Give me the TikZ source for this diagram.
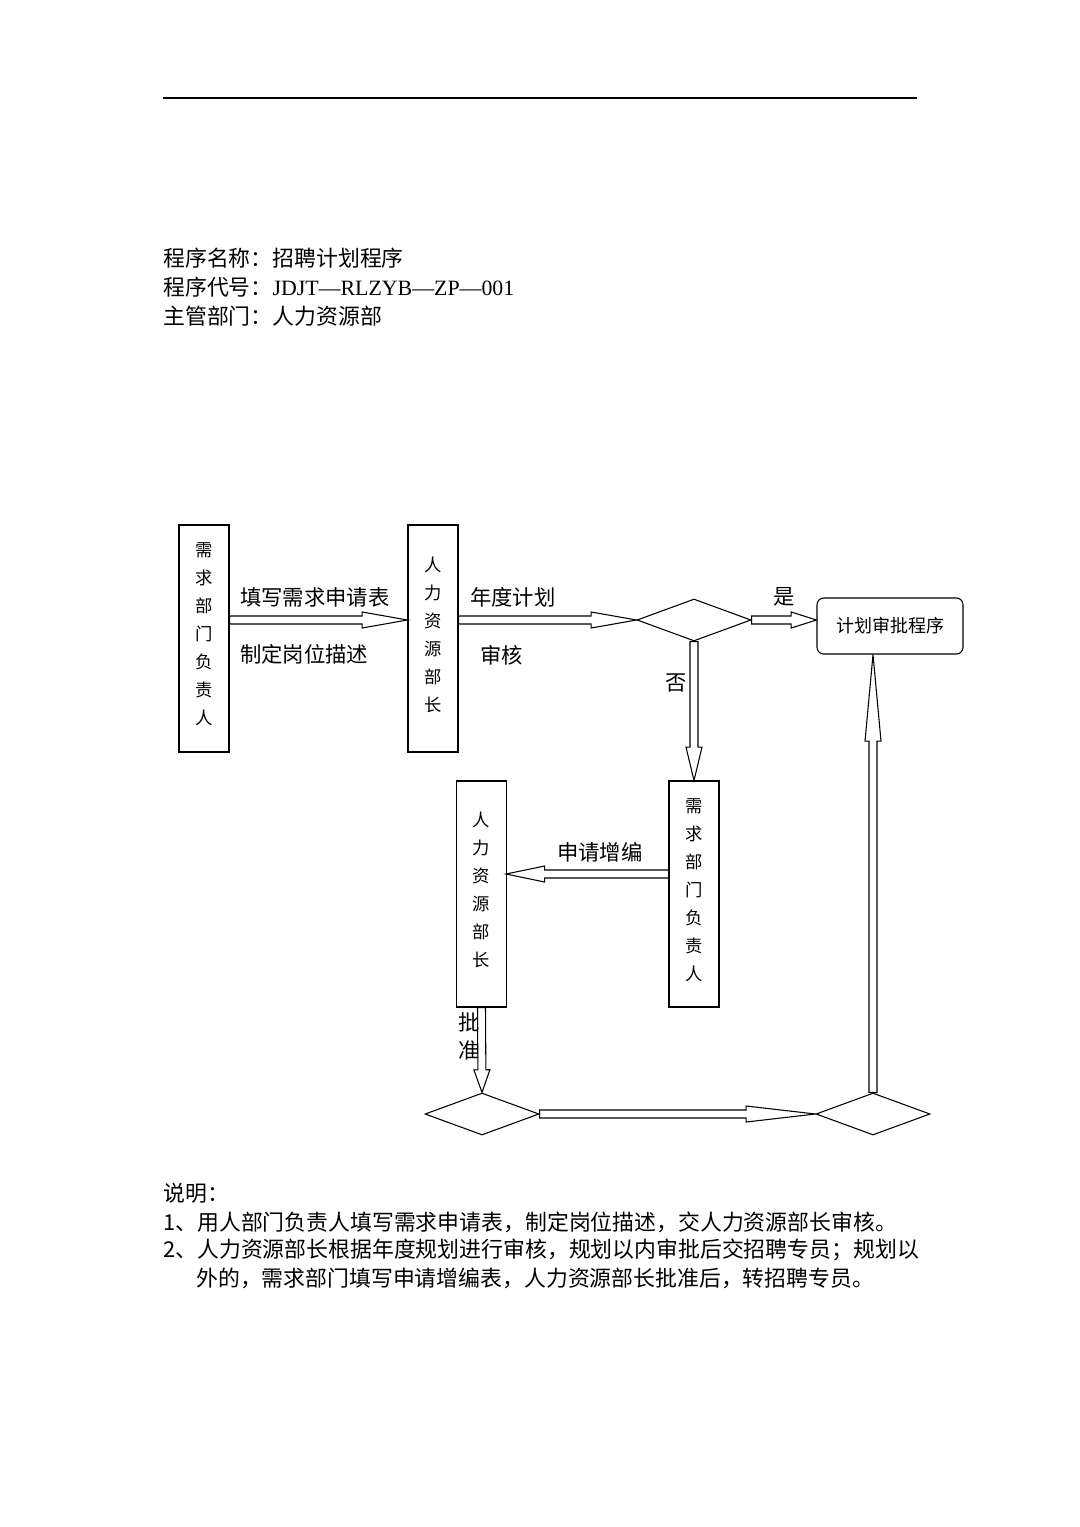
\documentclass[tikz,border=0pt]{standalone}
\usepackage{fontspec}
\setmainfont{Noto Sans CJK SC}
\newfontfamily\lat{Liberation Serif}
\usetikzlibrary{calc,shapes.geometric}
\newcommand\barrow[5]{%
 \coordinate (hb) at ($(#2)!#5!(#1)$);
 \draw[thick] ($(#1)!#3!90:(#2)$) -- ($(hb)!#3!90:(#2)$) -- ($(hb)!#4!90:(#2)$) -- (#2)
   -- ($(hb)!#4!-90:(#2)$) -- ($(hb)!#3!-90:(#2)$) -- ($(#1)!#3!-90:(#2)$) -- cycle;}
\begin{document}
\begin{tikzpicture}[x=0.75pt,y=-0.75pt,
  vbox/.style={draw,thick,minimum width=37.5pt,inner sep=0pt,align=center,font=\fontsize{13}{21}\selectfont},
  dia/.style={draw,thick,diamond,aspect=2.7,minimum width=85.5pt,minimum height=31.5pt,inner sep=0pt},
  lbl/.style={font=\fontsize{16}{18}\selectfont,anchor=west,inner sep=0pt},
  txt/.style={font=\fontsize{16.4}{18}\selectfont,anchor=west,inner sep=0pt}]
\useasboundingbox (0,0) rectangle (1080,1527);
\draw[thick] (163,98) -- (917,98);
\node[txt] at (163,258) {程序名称：招聘计划程序};
\node[txt] at (163,287) {程序代号：{\lat JDJT—RLZYB—ZP—001}};
\node[txt] at (163,316) {主管部门：人力资源部};
% boxes
\node[vbox,minimum height=170.25pt] (b1) at (204,638.5) {需\\求\\部\\门\\负\\责\\人\vspace{6pt}};
\node[vbox,minimum height=170.25pt] (b2) at (433,638.5) {人\\力\\资\\源\\部\\长\vspace{6pt}};
\node[vbox,minimum height=169.5pt] (b3) at (694,894) {需\\求\\部\\门\\负\\责\\人\vspace{6pt}};
\node[vbox,minimum height=169.5pt] (b4) at (481.5,894) {人\\力\\资\\源\\部\\长\vspace{6pt}};
\node[draw,thick,rounded corners=5pt,minimum width=109.5pt,minimum height=42pt,inner sep=0pt,font=\fontsize{13.5}{16}\selectfont] (plan) at (890,626) {计划审批程序};
\node[dia] (d1) at (694,620) {};
\node[dia] (d2) at (482,1114) {};
\node[dia] (d3) at (873,1114) {};
% arrows
\coordinate (a1s) at (b1.east|-d1);
\coordinate (a1e) at (b2.west|-d1);
\barrow{a1s}{a1e}{3pt}{6pt}{34pt}
\coordinate (a2s) at (b2.east|-d1);
\barrow{a2s}{d1.west}{3pt}{6pt}{34pt}
\coordinate (a3e) at (plan.west|-d1);
\barrow{d1.east}{a3e}{3pt}{6pt}{19pt}
\barrow{d1.south}{b3.north}{3pt}{6pt}{25pt}
\coordinate (a5s) at (669,874);
\coordinate (a5e) at (506,874);
\barrow{a5s}{a5e}{3pt}{6pt}{29pt}
\node[lbl] at (458,1022) {批};
\node[lbl] at (458,1050) {准};
\barrow{b4.south}{d2.north}{3pt}{6pt}{17pt}
\barrow{d2.east}{d3.west}{3pt}{6pt}{52pt}
\coordinate (a8e) at (plan.south-|d3);
\barrow{d3.north}{a8e}{3pt}{6pt}{65pt}
% labels
\node[lbl] at (240,597) {填写需求申请表};
\node[lbl] at (240,654) {制定岗位描述};
\node[lbl] at (470,597) {年度计划};
\node[lbl] at (480,655) {审核};
\node[lbl] at (773,597) {是};
\node[lbl] at (665,683) {否};
\node[lbl] at (557,852) {申请增编};
% notes
\node[txt] at (163,1193) {说明：};
\node[txt] at (163,1222) {1、用人部门负责人填写需求申请表，制定岗位描述，交人力资源部长审核。};
\node[txt] at (163,1250) {2、人力资源部长根据年度规划进行审核，规划以内审批后交招聘专员；规划以};
\node[txt] at (196,1278) {外的，需求部门填写申请增编表，人力资源部长批准后，转招聘专员。};
\end{tikzpicture}
\end{document}
